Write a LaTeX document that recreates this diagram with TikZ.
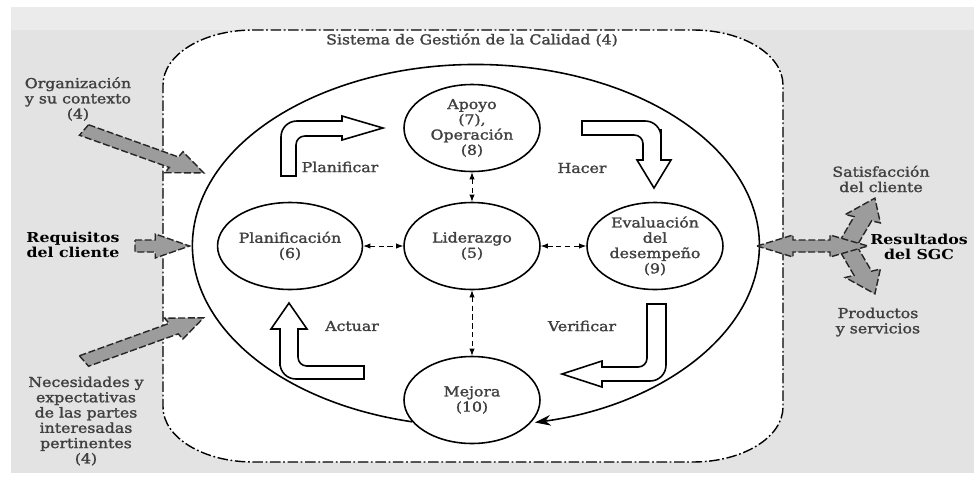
\documentclass[tikz,border=0pt]{standalone}
\usepackage{fontspec}
\setmainfont{DejaVu Serif}[FakeStretch=1.15]
\newfontfamily\medio{DejaVu Serif}[FakeStretch=1.15, FakeBold=1.6]
\usetikzlibrary{shapes.geometric,arrows.meta}
\definecolor{texto}{HTML}{404040}
\definecolor{fondo}{HTML}{e3e3e3}
\definecolor{relleno}{HTML}{9c9c9c}
\newcommand{\letra}{\fontsize{7.8}{8.7}\selectfont}
\newcommand{\flechagris}[4]{%
    \begin{scope}[shift={(#1,#2)}, xscale=1.56, rotate=#3]
        \draw[gris] (0,-6) -- ({#4-22},-6) -- ({#4-22},-12) -- (#4,0) -- ({#4-22},12) -- ({#4-22},6) -- (0,6) -- cycle;
    \end{scope}}
\begin{document}
\begin{tikzpicture}[x=0.02cm, y=-0.02cm, font=\letra\medio,
    proceso/.style={ellipse, draw, line width=0.9pt, fill=white, minimum width=2.72cm, minimum height=1.74cm, inner sep=0pt, align=center, text=texto},
    etiqueta/.style={align=center, text=texto},
    negrita/.style={align=center, font=\letra\bfseries},
    hueco/.style={draw, line width=0.9pt, fill=white},
    gris/.style={draw=black!85, fill=relleno, line width=0.8pt, dash pattern=on 4pt off 1.5pt},
    doble/.style={{Latex[length=4pt,width=3pt]}-{Latex[length=4pt,width=3pt]}, densely dashed, line width=0.5pt}]
        % Fondo
        \useasboundingbox (0,0) rectangle (974,477);
        \fill[fondo] (11,7) rectangle (974,473);
        \fill[black!8] (11,7) rectangle (974,30);
        % Sistema
        \draw[line width=0.8pt, fill=white, dash pattern=on 6pt off 1.5pt on 1pt off 1.5pt]
            (253,30) -- (693,30) arc[start angle=90, end angle=0, x radius=1.8cm, y radius=1.1cm]
            -- (783,407) arc[start angle=0, end angle=-90, x radius=1.8cm, y radius=1.1cm]
            -- (253,462) arc[start angle=-90, end angle=-180, x radius=1.8cm, y radius=1.1cm]
            -- (163,85) arc[start angle=180, end angle=90, x radius=1.8cm, y radius=1.1cm] -- cycle;
        \node[etiqueta] (titulo) at (472,40) {Sistema de Gestión de la Calidad (4)};
        % Procesos
        \node[proceso] (apoyo) at (472,128) {Apoyo\\(7),\\Operación\\(8)};
        \node[proceso] (liderazgo) at (472,246) {Liderazgo\\(5)};
        \node[proceso] (planificacion) at (290,246) {Planificación\\(6)};
        \node[proceso] (evaluacion) at (655,246) {Evaluación\\del\\desempeño\\(9)};
        \node[proceso] (mejora) at (472,400) {Mejora\\(10)};
        \draw[line width=0.9pt, -{Stealth[length=9pt,width=6pt]}] (mejora.200)
            arc[start angle=257, end angle=-78, x radius=5.67cm, y radius=3.62cm];
        \draw[doble] (apoyo) -- (liderazgo);
        \draw[doble] (planificacion) -- (liderazgo);
        \draw[doble] (liderazgo) -- (evaluacion);
        \draw[doble] (liderazgo) -- (mejora);
        % Ciclo
        \draw[hueco] (281,176) -- (281,150) [rounded corners=9pt] -- (281,121) -- (320,121) [sharp corners]
            -- (342,121) -- (342,116) -- (383,128) -- (342,140) -- (342,136) -- (320,136)
            [rounded corners=5pt] -- (296,136) -- (296,155) [sharp corners] -- (296,176) -- cycle;
        \draw[hueco] (582,121) -- (620,121) [rounded corners=9pt] -- (661,121) -- (661,145) [sharp corners]
            -- (661,160) -- (671,160) -- (654,188) -- (637,160) -- (643,160) -- (643,150)
            [rounded corners=5pt] -- (643,135) -- (620,135) [sharp corners] -- (582,135) -- cycle;
        \draw[hueco] (289,303) -- (307,329) -- (298,329) -- (298,345) [rounded corners=5pt] -- (298,366)
            -- (330,366) [sharp corners] -- (364,366) -- (364,379) -- (330,379) [rounded corners=9pt]
            -- (280,379) -- (280,350) [sharp corners] -- (280,329) -- (271,329) -- cycle;
        \draw[hueco] (647,304) -- (666,304) -- (666,340) [rounded corners=9pt] -- (666,381) -- (630,381)
            [sharp corners] -- (602,381) -- (602,387) -- (562,374) -- (602,361) -- (602,367) -- (625,367)
            [rounded corners=5pt] -- (647,367) -- (647,340) [sharp corners] -- cycle;
        \node[etiqueta] (planificar) at (340,167) {Planificar};
        \node[etiqueta] (hacer) at (582,168) {Hacer};
        \node[etiqueta] (actuar) at (352,326) {Actuar};
        \node[etiqueta] (verificar) at (582,326) {Verificar};
        % Entradas
        \flechagris{84}{130}{-29.2}{88}
        \flechagris{135}{246}{0}{35}
        \flechagris{84}{361}{29.4}{88}
        \node[etiqueta] (organizacion) at (78,99) {Organización\\y su contexto\\(4)};
        \node[negrita] (requisitos) at (73,245) {Requisitos\\del cliente};
        \node[etiqueta] (necesidades) at (86,421) {Necesidades y\\expectativas\\de las partes\\interesadas\\pertinentes\\(4)};
        % Salidas
        \flechagris{848}{244}{69.4}{49}
        \flechagris{848}{248}{-69.4}{49}
        \draw[gris] (757,246) -- (793,235) -- (793,240) -- (830,240) -- (830,235) -- (868,246)
            -- (830,257) -- (830,252) -- (793,252) -- (793,257) -- cycle;
        \node[etiqueta] (satisfaccion) at (881,179) {Satisfacción\\del cliente};
        \node[negrita] (resultados) at (919,247) {Resultados\\del SGC};
        \node[etiqueta] (productos) at (878,322) {Productos\\y servicios};
\end{tikzpicture}
\end{document}
